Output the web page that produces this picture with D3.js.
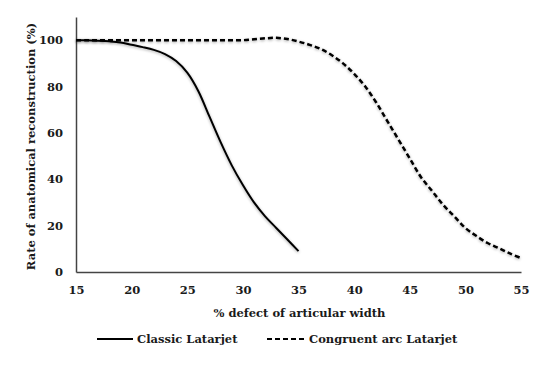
<!DOCTYPE html>
<html>
<head>
<meta charset="utf-8">
<script src="https://cdn.jsdelivr.net/npm/d3@7"></script>
<style>
  html, body { margin: 0; padding: 0; background: #fff; }
  text { font-family: "DejaVu Serif", serif; font-weight: bold; fill: #1a1a1a; }
</style>
</head>
<body>
<svg id="chart" width="550" height="375"></svg>
<script>
// ---- data ----
const classicX = [15,16,17,18,19,20,21,22,23,24,25,26,27,28,29,30,31,32,33,34,35];
const classicY = [100,100,99.8,99.5,99,98,97,95.8,94,91,86,78,67,56,46,37.5,30,24,19,14,9];
const congruentX = [15,16,17,18,19,20,21,22,23,24,25,26,27,28,29,30,31,32,33,34,35,36,37,38,39,40,41,42,43,44,45,46,47,48,49,50,51,52,53,54,55];
const congruentY = [100,100,100,100,100,100,100,100,100,100,100,100,100,100,100,100,100.4,100.8,101,100.5,99.4,98,96.2,93.5,90,85.5,80,73,65,57,49,41,35,29,24,19,15.5,12.5,10.3,8,6];
const xTicks = [15,20,25,30,35,40,45,50,55];
const yTicks = [0,20,40,60,80,100];
const seriesNames = ["Classic Latarjet", "Congruent arc Latarjet"];
const xTitle = "% defect of articular width";
const yTitle = "Rate of anatomical reconstruction (%)";

const svg = d3.select("#chart");
const m = {left: 76, right: 29, top: 17, bottom: 103};
const W = 550, H = 375;
const x = d3.scaleLinear().domain([15, 55]).range([m.left, W - m.right]);
const y = d3.scaleLinear().domain([0, 110]).range([H - m.bottom, m.top]);

// shadow filter
const defs = svg.append("defs");
const f = defs.append("filter").attr("id", "sh").attr("x", "-10%").attr("y", "-10%").attr("width", "120%").attr("height", "120%");
f.append("feGaussianBlur").attr("in", "SourceAlpha").attr("stdDeviation", 1.6).attr("result", "b");
f.append("feOffset").attr("in", "b").attr("dx", 0).attr("dy", 1).attr("result", "o");
f.append("feComponentTransfer").attr("in", "o").attr("result", "o2")
  .append("feFuncA").attr("type", "linear").attr("slope", 0.35);
const mg = f.append("feMerge");
mg.append("feMergeNode").attr("in", "o2");
mg.append("feMergeNode").attr("in", "SourceGraphic");

// axes
const xAxis = d3.axisBottom(x).tickValues(xTicks).tickSize(0).tickPadding(14);
const yAxis = d3.axisLeft(y).tickValues(yTicks).tickSize(0).tickPadding(13);
const gx = svg.append("g").attr("transform", `translate(0,${y(0)})`).call(xAxis);
const gy = svg.append("g").attr("transform", `translate(${m.left},0)`).call(yAxis);
[gx, gy].forEach(g => {
  g.select(".domain").attr("stroke", "#444").attr("stroke-width", 1.5);
  g.selectAll(".tick text").style("font-family", "DejaVu Serif, serif")
    .style("font-weight", "bold").style("font-size", "11.5px").attr("fill", "#1a1a1a");
});

// lines
const line = d3.line().x(d => x(d[0])).y(d => y(d[1])).curve(d3.curveCatmullRom.alpha(0.5));
const classic = classicX.map((v, i) => [v, classicY[i]]);
const congruent = congruentX.map((v, i) => [v, congruentY[i]]);
svg.append("path").datum(classic).attr("d", line).attr("fill", "none")
  .attr("stroke", "#000").attr("stroke-width", 2).attr("filter", "url(#sh)");
svg.append("path").datum(congruent).attr("d", line).attr("fill", "none")
  .attr("stroke", "#000").attr("stroke-width", 2.5).attr("stroke-dasharray", "5,3").attr("filter", "url(#sh)");

// titles
svg.append("text").attr("x", (m.left + W - m.right) / 2 + 1).attr("y", 317)
  .attr("text-anchor", "middle").style("font-size", "11.5px").text(xTitle);
svg.append("text").attr("transform", `translate(35,${(y(0) + y(110)) / 2 + 2}) rotate(-90)`)
  .attr("text-anchor", "middle").style("font-size", "11.5px").text(yTitle);

// legend
const lg = svg.append("g");
lg.append("line").attr("x1", 97).attr("x2", 133).attr("y1", 339).attr("y2", 339)
  .attr("stroke", "#000").attr("stroke-width", 2);
lg.append("text").attr("x", 137).attr("y", 343).style("font-size", "11.5px").text(seriesNames[0]);
lg.append("line").attr("x1", 267).attr("x2", 306).attr("y1", 339).attr("y2", 339)
  .attr("stroke", "#000").attr("stroke-width", 2).attr("stroke-dasharray", "5,3");
lg.append("text").attr("x", 309).attr("y", 343).style("font-size", "11.5px").text(seriesNames[1]);
</script>
</body>
</html>
